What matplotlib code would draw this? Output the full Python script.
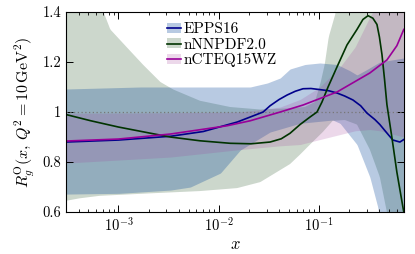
import numpy as np
import matplotlib
matplotlib.use('Agg')
import matplotlib.pyplot as plt
from matplotlib.patches import Patch
from matplotlib.lines import Line2D

plt.rcParams['font.family'] = 'serif'
plt.rcParams['font.serif'] = ['cmr10']
plt.rcParams['mathtext.fontset'] = 'cm'
plt.rcParams['axes.formatter.use_mathtext'] = True
plt.rcParams['axes.unicode_minus'] = False

# central curves
x_epps = [3e-4, 1e-3, 3.3e-3, 7.0e-3, 0.0153, 0.0277, 0.0325, 0.040, 0.0481, 0.058,
          0.0693, 0.083, 0.1, 0.125, 0.151, 0.18, 0.218, 0.26, 0.30, 0.36,
          0.404, 0.475, 0.545, 0.64, 0.70]
r_epps = [0.880, 0.888, 0.903, 0.922, 0.960, 1.0, 1.025, 1.05, 1.068, 1.083,
          1.093, 1.094, 1.09, 1.085, 1.076, 1.064, 1.048, 1.025, 0.996, 0.97,
          0.95, 0.916, 0.888, 0.880, 0.89]

x_nnpdf = [3e-4, 5.3e-4, 1e-3, 2.1e-3, 3.3e-3, 6.5e-3, 0.013, 0.021, 0.0325, 0.042,
           0.0514, 0.0647, 0.0813, 0.0955, 0.107, 0.123, 0.151, 0.19, 0.239, 0.274,
           0.308, 0.344, 0.378, 0.40, 0.424, 0.45, 0.475, 0.532, 0.597, 0.686, 0.70]
r_nnpdf = [0.99, 0.965, 0.94, 0.915, 0.90, 0.885, 0.875, 0.873, 0.88, 0.893,
           0.915, 0.95, 0.98, 1.0, 1.04, 1.10, 1.18, 1.268, 1.33, 1.37,
           1.385, 1.375, 1.35, 1.30, 1.23, 1.13, 1.03, 0.90, 0.76, 0.62, 0.60]

x_ncteq = [3e-4, 1e-3, 3.3e-3, 0.0121, 0.0206, 0.041, 0.0693, 0.151, 0.321, 0.475,
           0.597, 0.70]
r_ncteq = [0.884, 0.892, 0.912, 0.945, 0.965, 1.0, 1.028, 1.08, 1.156, 1.208,
           1.265, 1.33]

# uncertainty bands
xb_epps_up = [3e-4, 1.65e-3, 0.0206, 0.0305, 0.041, 0.0514, 0.0726, 0.102, 0.151, 0.203,
              0.239, 0.30, 0.404, 0.70]
epps_up = [1.092, 1.10, 1.10, 1.116, 1.136, 1.172, 1.19, 1.196, 1.19, 1.165,
           1.148, 1.17, 1.20, 1.216]
xb_epps_lo = [3e-4, 1.02e-3, 3.3e-3, 5.2e-3, 0.0104, 0.0164, 0.0325, 0.0647, 0.137, 0.162,
              0.239, 0.321, 0.385, 0.454, 0.70]
epps_lo = [0.672, 0.675, 0.688, 0.70, 0.756, 0.848, 0.92, 0.955, 0.968, 0.955,
           0.87, 0.74, 0.62, 0.45, 0.40]

xb_nnpdf_up = [3e-4, 6.5e-4, 7.1e-4, 8.3e-4, 1.23e-3, 1.77e-3, 2.62e-3, 3.52e-3, 6.5e-3, 0.013,
               0.026, 0.0514, 0.072, 0.091, 0.104, 0.114, 0.125, 0.145, 0.159, 0.70]
nnpdf_up = [1.6, 1.5, 1.40, 1.33, 1.256, 1.188, 1.12, 1.09, 1.045, 1.02,
            1.01, 1.015, 1.02, 1.04, 1.12, 1.19, 1.30, 1.39, 1.5, 1.6]
xb_nnpdf_lo = [3e-4, 4.1e-4, 6.5e-4, 2.1e-3, 6.5e-3, 0.0153, 0.026, 0.0514, 0.0647, 0.0813,
               0.109, 0.137, 0.181, 0.239, 0.321, 0.404, 0.475, 0.532, 0.70]
nnpdf_lo = [0.645, 0.655, 0.665, 0.675, 0.684, 0.696, 0.72, 0.792, 0.83, 0.87,
            0.92, 0.965, 0.968, 0.95, 0.85, 0.74, 0.60, 0.45, 0.40]

xb_ncteq = [3e-4, 3.3e-3, 0.0164, 0.041, 0.0647, 0.102, 0.162, 0.229, 0.321, 0.404, 0.70]
ncteq_up = [0.995, 0.997, 1.0, 1.02, 1.05, 1.10, 1.18, 1.26, 1.38, 1.45, 1.55]
ncteq_lo = [0.796, 0.82, 0.85, 0.865, 0.87, 0.89, 0.91, 0.925, 0.93, 0.925, 0.90]

c_epps = '#00008b'
c_nnpdf = '#003300'
c_ncteq = '#990099'
band_epps = ('#004297', 0.28)
band_nnpdf = ('#003800', 0.20)
band_ncteq = ('#a0409a', 0.20)

fig = plt.figure(figsize=(4.15, 2.54), dpi=100)
ax = fig.add_axes([0.159, 0.165, 0.814, 0.788])

grid = np.logspace(np.log10(3e-4), np.log10(0.7), 400)
lg = np.log10(grid)


def band(xu, up, xl, lo):
    u = np.interp(lg, np.log10(xu), up)
    l = np.interp(lg, np.log10(xl), lo)
    return l, u


lo, up = band(xb_nnpdf_up, nnpdf_up, xb_nnpdf_lo, nnpdf_lo)
ax.fill_between(grid, lo, up, color=band_nnpdf[0], alpha=band_nnpdf[1], lw=0)
lo, up = band(xb_epps_up, epps_up, xb_epps_lo, epps_lo)
ax.fill_between(grid, lo, up, color=band_epps[0], alpha=band_epps[1], lw=0)
lo, up = band(xb_ncteq, ncteq_up, xb_ncteq, ncteq_lo)
ax.fill_between(grid, lo, up, color=band_ncteq[0], alpha=band_ncteq[1], lw=0)

ax.axhline(1.0, color='#777777', ls=(0, (1, 2)), lw=0.9)

ax.plot(x_epps, r_epps, color=c_epps, lw=1.2)
ax.plot(x_nnpdf, r_nnpdf, color=c_nnpdf, lw=1.2)
ax.plot(x_ncteq, r_ncteq, color=c_ncteq, lw=1.2)

ax.set_xscale('log')
ax.set_xlim(3e-4, 0.7)
ax.set_ylim(0.6, 1.4)
ax.set_yticks([0.6, 0.8, 1.0, 1.2, 1.4], labels=['0.6', '0.8', '1', '1.2', '1.4'])
ax.tick_params(which='both', direction='in', top=True, right=True, labelsize=10.5)
ax.tick_params(which='major', length=5, width=0.7)
ax.tick_params(which='minor', length=2.5, width=0.6)
ax.tick_params(axis='y', which='minor', left=False, right=False)
for s in ax.spines.values():
    s.set_linewidth(0.8)

ax.set_xlabel(r'$x$', fontsize=12, labelpad=1)
ax.set_ylabel(r'$R_g^{\rm O}(x,\,Q^2 = 10\,{\rm GeV}^2)$', fontsize=11.5, labelpad=4)

handles = [
    (Patch(facecolor=band_epps[0], alpha=band_epps[1], lw=0), Line2D([], [], color=c_epps, lw=1.2)),
    (Patch(facecolor=band_nnpdf[0], alpha=band_nnpdf[1], lw=0), Line2D([], [], color=c_nnpdf, lw=1.2)),
    (Patch(facecolor=band_ncteq[0], alpha=band_ncteq[1], lw=0), Line2D([], [], color=c_ncteq, lw=1.2)),
]
ax.legend(handles, ['EPPS16', 'nNNPDF2.0', 'nCTEQ15WZ'], loc='upper left',
          bbox_to_anchor=(0.265, 1.005), frameon=False, fontsize=11.0,
          handlelength=0.9, handleheight=0.6, handletextpad=0.2, labelspacing=0.12,
          borderpad=0.25)

fig.savefig('out.png', dpi=100)
